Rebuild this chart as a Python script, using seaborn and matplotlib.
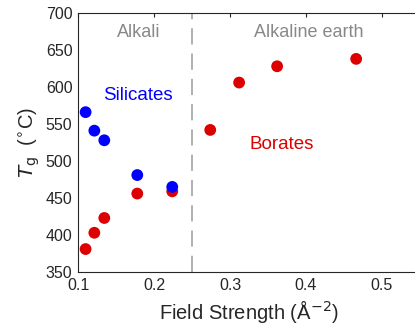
import matplotlib
matplotlib.use("Agg")
import matplotlib.pyplot as plt
import seaborn as sns
import pandas as pd

# field strength (A^-2) and Tg (C)
sil_fs = [0.110, 0.1215, 0.1346, 0.178, 0.224]
sil_tg = [566, 541, 528, 481, 465]
bor_fs = [0.110, 0.1215, 0.1346, 0.178, 0.224, 0.274, 0.312, 0.362, 0.466]
bor_tg = [381, 403, 423, 456, 459, 542, 606, 628, 638]

df = pd.concat([
    pd.DataFrame({"fs": sil_fs, "tg": sil_tg, "glass": "Silicates"}),
    pd.DataFrame({"fs": bor_fs, "tg": bor_tg, "glass": "Borates"}),
])

sns.set_style("white")
plt.rcParams['font.family'] = ['Liberation Sans', 'DejaVu Sans']

fig = plt.figure(figsize=(4.15, 3.30), dpi=100)
ax = fig.add_axes([78/415, 1-272/330, 342/415, 259/330])

red = "#dd0000"
blue = "#0000ff"
sns.scatterplot(data=df[df.glass == "Borates"], x="fs", y="tg", color=red, s=72,
                edgecolor="none", ax=ax, zorder=3)
sns.scatterplot(data=df[df.glass == "Silicates"], x="fs", y="tg", color=blue, s=72,
                edgecolor="none", ax=ax, zorder=4)

ax.axvline(0.25, color="#aaaaaa", lw=1.3, ls=(0, (9, 5)), zorder=1)

ax.text(0.18, 674, "Alkali", color="#888888", fontsize=13, ha="center", va="center")
ax.text(0.403, 674, "Alkaline earth", color="#888888", fontsize=13, ha="center", va="center")
ax.text(0.179, 588, "Silicates", color=blue, fontsize=13.5, ha="center", va="center")
ax.text(0.368, 522, "Borates", color=red, fontsize=13.5, ha="center", va="center")

ax.set_xlim(0.1, 0.55)
ax.set_ylim(350, 700)
ax.set_xticks([0.1, 0.2, 0.3, 0.4, 0.5])
ax.set_xticklabels(["0.1", "0.2", "0.3", "0.4", "0.5"])
ax.set_yticks(range(350, 701, 50))
ax.tick_params(direction="in", length=3, width=0.8, labelsize=11.5, colors="#262626",
               top=True, right=True, pad=4)
for sp in ax.spines.values():
    sp.set_color("#262626")
    sp.set_linewidth(0.8)

ax.set_xlabel("Field Strength (Å$^{-2}$)", fontsize=14.5, color="#262626", labelpad=4)
ax.set_ylabel("$T_{\\rm g}$  ($^{\\circ}$C)", fontsize=14.5, color="#262626", labelpad=3)

fig.savefig("out.png", dpi=100)
